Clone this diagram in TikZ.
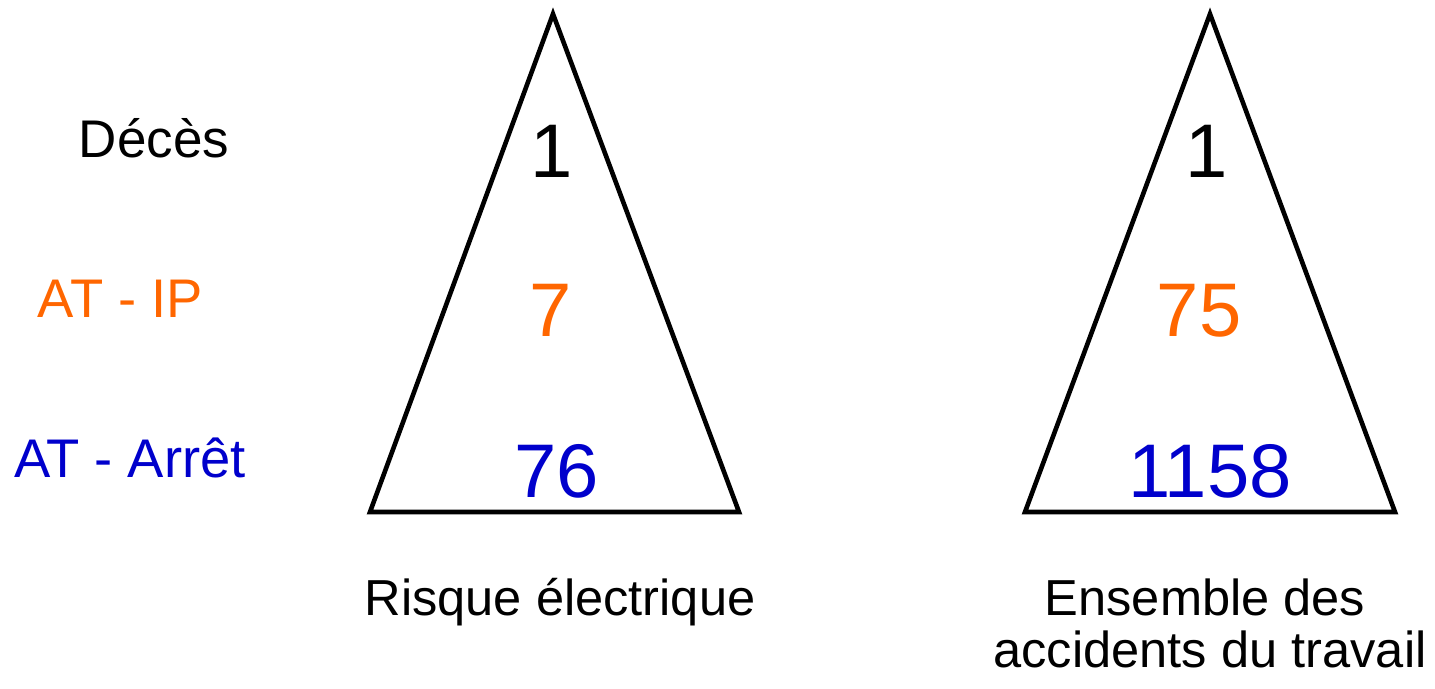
\documentclass[tikz,border=0pt]{standalone}
\usepackage{fontspec}
\setmainfont{Liberation Sans}
\definecolor{oran}{HTML}{FF6600}
\definecolor{blu}{HTML}{0000CC}
\begin{document}
\begin{tikzpicture}[x=0.5pt,y=-0.5pt,
  tri/.style={draw=black,line width=2.3pt,line join=miter},
  lab/.style={anchor=base,inner sep=0pt,font=\fontsize{27.2}{30}\selectfont},
  num/.style={anchor=base,inner sep=0pt,font=\fontsize{38}{44}\selectfont},
  captxt/.style={anchor=base,inner sep=0pt,font=\fontsize{25.3}{28}\selectfont}]
\useasboundingbox (0,0) rectangle (1435,689);
% triangles
\coordinate (LA) at (553,14);
\coordinate (LL) at (370,512);
\coordinate (LR) at (739,512);
\coordinate (RA) at (1210,14);
\coordinate (RL) at (1025,512);
\coordinate (RR) at (1395,512);
\draw[tri] (LA) -- (LR) -- (LL) -- cycle;
\draw[tri] (RA) -- (RR) -- (RL) -- cycle;
% row labels
\node[lab,font=\fontsize{26.5}{30}\selectfont] (deces) at (154,158) {Décès};
\node[lab,text=oran] (atip) at (120.5,318) {AT - IP};
\node[lab,text=blu] (atarret) at (130,478) {AT - Arrêt};
% left numbers
\node[num] (l1) at (552,178) {1};
\node[num,text=oran] (l2) at (551,337) {7};
\node[num,text=blu] (l3) at (557,497) {76};
% right numbers
\node[num] (r1) at (1207,178) {1};
\node[num,text=oran] (r2) at (1199,337) {75};
\node[num,text=blu] (r3) at (1210,497) {1158};
% captions
\node[captxt] (capl) at (560,615) {Risque électrique};
\node[captxt] (capr1) at (1205,615) {Ensemble des};
\node[captxt] (capr2) at (1210,667) {accidents du travail};
\end{tikzpicture}
\end{document}
